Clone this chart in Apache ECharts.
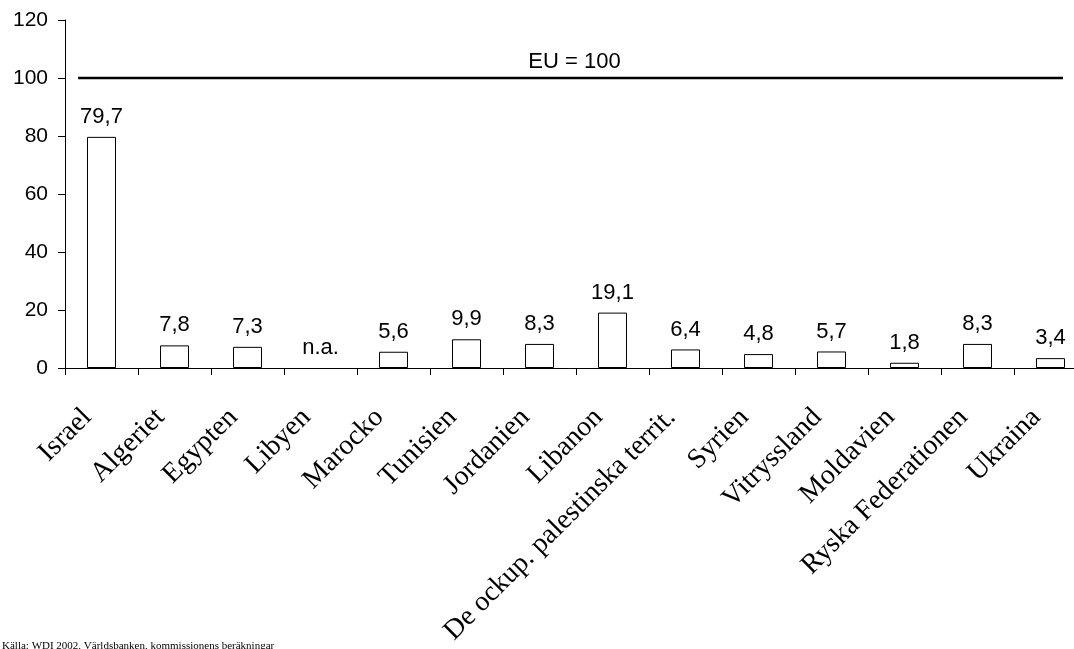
<!DOCTYPE html>
<html>
<head>
<meta charset="utf-8">
<script src="https://cdn.jsdelivr.net/npm/echarts@6/dist/echarts.min.js"></script>
<style>
  html, body { margin: 0; padding: 0; background: #fff; }
  #chart { width: 1074px; height: 649px; }
</style>
</head>
<body>
<div id="chart"></div>
<script>
(function () {
  'use strict';

  // categories and values (null = n.a.)
  var countries = ['Israel', 'Algeriet', 'Egypten', 'Libyen', 'Marocko', 'Tunisien', 'Jordanien',
    'Libanon', 'De ockup. palestinska territ.', 'Syrien', 'Vitryssland', 'Moldavien',
    'Ryska Federationen', 'Ukraina'];
  var values = [79.7, 7.8, 7.3, null, 5.6, 9.9, 8.3, 19.1, 6.4, 4.8, 5.7, 1.8, 8.3, 3.4];
  var yTicks = [0, 20, 40, 60, 80, 100, 120];
  // EU reference line, in category-position units
  var euLevel = 100;
  var euLine = [[0.18, euLevel], [6.98, euLevel], [13.67, euLevel]];
  var source = 'Källa: WDI 2002, Världsbanken, kommissionens beräkningar';

  var sans = 'Liberation Sans, Arial, sans-serif';
  var serif = 'Liberation Serif, Times New Roman, serif';

  var barData = values.map(function (v) {
    if (v === null) {
      return { value: 0, itemStyle: { borderWidth: 0, color: 'transparent' } };
    }
    return v;
  });

  var myChart = echarts.init(document.getElementById('chart'));
  var option = {
    animation: false,
    backgroundColor: '#fff',
    grid: { left: 65, top: 20, bottom: 281, width: 1022, outerBoundsMode: 'none' },
    xAxis: [{
      type: 'category',
      data: countries,
      axisLine: { lineStyle: { color: '#000', width: 1 } },
      axisTick: { show: true, length: 7, lineStyle: { color: '#000' } },
      axisLabel: {
        rotate: 45,
        margin: 31,
        padding: [0, 20, 0, 0],
        interval: 0,
        color: '#000',
        fontFamily: serif,
        fontSize: 28
      },
      splitLine: { show: false }
    }, {
      type: 'value',
      min: 0,
      max: countries.length,
      show: false
    }],
    yAxis: {
      type: 'value',
      min: yTicks[0],
      max: yTicks[yTicks.length - 1],
      interval: 20,
      axisLine: { show: true, lineStyle: { color: '#000' } },
      axisTick: { show: true, length: 7, lineStyle: { color: '#000' } },
      axisLabel: { color: '#000', fontFamily: sans, fontSize: 21, margin: 17 },
      splitLine: { show: false }
    },
    series: [{
      type: 'bar',
      data: barData,
      barWidth: 29,
      itemStyle: { color: '#fff', borderColor: '#000', borderWidth: 1 },
      label: {
        show: true,
        position: 'top',
        distance: 9,
        color: '#000',
        fontFamily: sans,
        fontSize: 22,
        formatter: function (p) {
          var v = values[p.dataIndex];
          return v === null ? 'n.a.' : String(v).replace('.', ',');
        }
      }
    }, {
      type: 'line',
      xAxisIndex: 1,
      data: euLine,
      symbol: 'circle',
      symbolSize: 0,
      showSymbol: true,
      lineStyle: { color: '#000', width: 2.5 },
      label: {
        show: true,
        position: 'top',
        distance: 5,
        color: '#000',
        fontFamily: sans,
        fontSize: 22,
        formatter: function (p) {
          return p.dataIndex === 1 ? 'EU = ' + euLevel : '';
        }
      }
    }],
    graphic: [{
      type: 'text',
      left: 2,
      top: 641,
      style: { text: source, fill: '#000', font: '11px ' + serif }
    }]
  };
  myChart.setOption(option);
})();
</script>
</body>
</html>
